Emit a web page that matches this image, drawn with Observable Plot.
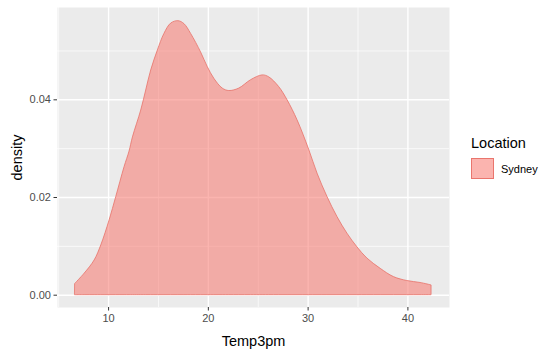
<!DOCTYPE html>
<html>
<head>
<meta charset="utf-8">
<script src="https://cdn.jsdelivr.net/npm/d3@7"></script>
<script src="https://cdn.jsdelivr.net/npm/@observablehq/plot@0.6"></script>
<style>
  html, body { margin: 0; padding: 0; background: #fff; }
  #wrap { position: relative; width: 555px; height: 354px; font-family: "Liberation Sans", Arial, sans-serif; }
  #legend { position: absolute; left: 471px; top: 135px; }
  #legend .title { font-size: 14.5px; color: #000; line-height: 16px; }
  #legend .row { display: flex; align-items: center; margin-top: 7px; }
  #legend .key { width: 21px; height: 19px; background: rgba(248,118,109,0.55); border: 1px solid rgba(232,110,102,0.9); box-sizing: content-box; }
  #legend .lab { font-size: 11px; color: #000; margin-left: 7px; }
</style>
</head>
<body>
<div id="wrap"></div>
<script>
const locationName = "Sydney";
const temp3pm = [6.67, 7.6, 8.6, 9.27, 10.1, 10.77, 11.6, 12.1, 12.44, 13.27, 13.77, 14.27, 14.94, 15.6, 16.27, 17.0, 17.6, 18.27, 19.27, 19.94, 20.6, 21.44, 22.1, 23.1, 24.27, 25.44, 26.1, 27.1, 27.94, 28.94, 30.1, 30.94, 31.94, 32.94, 33.94, 34.94, 35.94, 37.27, 38.6, 39.94, 41.27, 42.37];
const density = [0.00233, 0.0044, 0.0071, 0.0102, 0.0153, 0.0201, 0.0262, 0.0294, 0.0323, 0.0378, 0.0419, 0.0460, 0.0501, 0.0535, 0.0556, 0.0561, 0.0555, 0.0535, 0.0497, 0.0467, 0.0443, 0.0423, 0.0418, 0.0423, 0.0440, 0.0450, 0.0446, 0.0426, 0.0399, 0.0358, 0.0298, 0.0249, 0.0201, 0.0160, 0.0126, 0.0098, 0.0075, 0.0054, 0.0037, 0.0029, 0.0025, 0.0020];
const xTicks = [10, 20, 30, 40];
const xMinor = [5, 15, 25, 35];
const yTicks = [0, 0.02, 0.04];
const yTickLabels = ["0.00", "0.02", "0.04"];
const yMinor = [0.01, 0.03, 0.05];

const data = temp3pm.map((t, i) => ({Temp3pm: t, density: density[i], Location: locationName}));

const font = "Liberation Sans, Arial, sans-serif";
const plot = Plot.plot({
  width: 555,
  height: 354,
  marginLeft: 57,
  marginRight: 106,
  marginTop: 7,
  marginBottom: 47,
  style: {fontFamily: font, background: "white"},
  x: {domain: [4.88, 44.17], label: null},
  y: {domain: [-0.00252, 0.0589], label: null},
  marks: [
    Plot.frame({fill: "#EBEBEB", stroke: null}),
    Plot.gridX(xMinor, {stroke: "white", strokeOpacity: 1, strokeWidth: 0.7}),
    Plot.gridY(yMinor, {stroke: "white", strokeOpacity: 1, strokeWidth: 0.7}),
    Plot.gridX(xTicks, {stroke: "white", strokeOpacity: 1, strokeWidth: 1.4}),
    Plot.gridY(yTicks, {stroke: "white", strokeOpacity: 1, strokeWidth: 1.4}),
    Plot.areaY(data, {x: "Temp3pm", y: "density", curve: "catmull-rom", fill: "#F8766D", fillOpacity: 0.55, stroke: "#E8736B", strokeOpacity: 0.9, strokeWidth: 0.9}),
    Plot.axisX(xTicks, {tickSize: 3.5, tickPadding: 3, fontSize: 11, fill: "#4D4D4D", stroke: "#333333", label: null}),
    Plot.axisY(yTicks, {tickSize: 3.5, tickPadding: 3, fontSize: 11, fill: "#4D4D4D", stroke: "#333333", label: null, tickFormat: (d, i) => yTickLabels[i]}),
    Plot.text(["Temp3pm"], {frameAnchor: "bottom", lineAnchor: "bottom", dy: 38, fontSize: 14.5, fill: "#000"}),
    Plot.text(["density"], {frameAnchor: "left", textAnchor: "middle", lineAnchor: "middle", dx: -40, rotate: -90, fontSize: 14.5, fill: "#000"})
  ]
});
const wrap = document.getElementById("wrap");
wrap.appendChild(plot);
const legend = document.createElement("div");
legend.id = "legend";
legend.innerHTML = `<div class="title">Location</div><div class="row"><div class="key"></div><div class="lab">${locationName}</div></div>`;
wrap.appendChild(legend);
</script>
</body>
</html>
